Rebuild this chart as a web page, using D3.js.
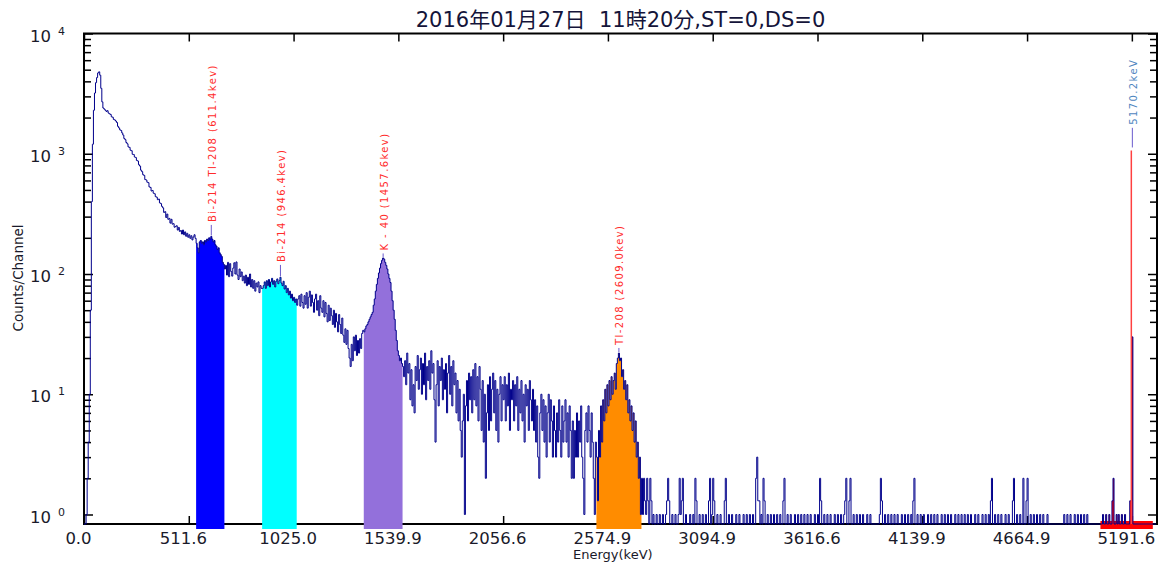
<!doctype html>
<html lang="ja">
<head>
<meta charset="utf-8">
<title>spectrum</title>
<script src="https://d3js.org/d3.v7.min.js"></script>
<style>
  body { margin: 0; background: #fff; }
  svg text { font-family: "DejaVu Sans", "Noto Sans CJK JP", sans-serif; }
</style>
</head>
<body>
<div id="chart"></div>
<script>
// ---- data ----
// x axis: channel of each tick and the energy printed under it
var tickChannels = [0, 100, 200, 300, 400, 500, 600, 700, 800, 900, 1000];
var tickLabels = ["0.0", "511.6", "1025.0", "1539.9", "2056.6", "2574.9", "3094.9", "3616.6", "4139.9", "4664.9", "5191.6"];
var yExponents = [0, 1, 2, 3, 4];

// counts per channel, split into pieces (ch 0-109, 110-209, 210-299, 300-399, 400-529, 530-1023)
var lowPeak = [
  0, 0, 1, 2, 4, 10, 50, 400, 1200, 2300,
  3200, 3900, 4300, 4700, 4800, 4500, 3500, 2700, 2400, 2350,
  2300, 2250, 2280, 2180, 2150, 2120, 2030, 2010, 1930, 1910,
  1870, 1820, 1690, 1640, 1580, 1560, 1490, 1430, 1340, 1310,
  1240, 1210, 1140, 1130, 1070, 1060, 990, 985, 940, 930,
  880, 870, 810, 790, 730, 710, 670, 660, 610, 605,
  580, 575, 530, 525, 490, 495, 470, 465, 440, 435,
  415, 420, 390, 385, 365, 355, 325, 330, 295, 315,
  285, 290, 265, 285, 260, 262, 245, 248, 252, 232,
  244, 226, 230, 215, 232, 212, 224, 206, 218, 202,
  212, 198, 208, 192, 203, 212, 198, 180, 165, 150];
var biCounts = [
  185, 190, 180, 185, 175, 190, 185, 195, 190, 200,
  195, 205, 195, 185, 190, 175, 170, 160, 165, 150,
  145, 140, 125, 120, 110, 118, 98, 125, 95, 122,
  105, 96, 112, 124, 100, 126, 98, 90, 110, 95,
  104, 88, 96, 84, 98, 80, 94, 82, 100, 78,
  90, 76, 88, 72, 84, 78, 86, 70, 80, 76,
  76, 80, 86, 76, 88, 80, 90, 78, 86, 92,
  82, 88, 78, 87, 91, 83, 88, 94, 84, 80,
  87, 75, 80, 70, 76, 67, 72, 63, 68, 60,
  64, 58, 62, 55, 62, 66, 54, 68, 58, 52];
var kCounts = [
  66, 56, 70, 52, 64, 72, 54, 67, 58, 48,
  62, 68, 50, 60, 45, 66, 52, 48, 60, 44,
  58, 47, 40, 55, 41, 52, 45, 38, 50, 36,
  47, 40, 33, 46, 38, 32, 43, 31, 27, 35,
  26, 34, 24, 20, 17, 26, 19, 30, 23, 31,
  21, 28, 22, 29, 24, 32, 34, 33, 35, 37,
  38, 40, 42, 44, 46, 48, 55, 62, 72, 82,
  92, 102, 112, 122, 130, 136, 133, 125, 118, 110,
  100, 92, 85, 72, 60, 50, 42, 34, 28, 23];
var midCounts = [
  21, 19, 20, 18, 17, 14, 19, 12, 22, 15,
  18, 9, 16, 8, 12, 7, 17, 13, 21, 11,
  16, 20, 10, 18, 12, 22, 9, 17, 13, 19,
  11, 23, 15, 18, 9, 4, 12, 19, 8, 17,
  13, 20, 9, 16, 11, 18, 7, 15, 21, 10,
  17, 8, 19, 12, 15, 7, 13, 6, 11, 5,
  3, 6, 10, 1, 8, 13, 6, 15, 9, 14,
  7, 16, 9, 18, 8, 14, 6, 17, 11, 5,
  13, 4, 10, 2, 7, 12, 5, 14, 6, 11,
  15, 7, 13, 5, 11, 4, 10, 14, 6, 12];
var tlCounts = [
  9, 14, 6, 12, 8, 15, 5, 11, 9, 13,
  6, 12, 8, 14, 5, 11, 7, 13, 6, 10,
  4, 12, 8, 11, 5, 13, 9, 6, 11, 5,
  9, 4, 8, 3, 2, 7, 10, 5, 9, 4,
  8, 3, 7, 10, 4, 9, 6, 3, 8, 5,
  3, 7, 4, 9, 5, 3, 8, 4, 6, 9,
  4, 7, 3, 8, 5, 2, 6, 2, 5, 3,
  7, 3, 6, 4, 8, 3, 2, 1, 5, 7,
  4, 8, 5, 3, 7, 4, 2, 1, 4, 3,
  1.3, 5, 3, 8, 4, 9, 6, 11, 7, 12,
  8, 13, 9, 14, 10, 13, 15, 11, 18, 20,
  22, 19, 20, 14, 16, 11, 13, 9, 12, 7,
  9, 6, 8, 5, 7, 4, 6, 3, 4, 2];
var tailCounts = [
  3, 1, 2, 1, 2, 1.3, 1, 2, 1.3, 0,
  2, 1.3, 0, 1, 0, 0, 1, 0, 0, 1,
  0, 0, 1, 0, 0, 1, 1.3, 2, 1.3, 0,
  0, 1, 0, 0, 1, 0, 0, 1, 2, 1,
  1.3, 2, 0, 0, 1, 0, 0, 0, 1, 0,
  0, 1, 0, 2, 1.3, 0, 0, 1, 0, 0,
  1, 0, 0, 1, 0, 0, 1.3, 2, 0, 1,
  2, 1.3, 0, 0, 1, 0, 0, 1, 0, 0,
  0, 1.3, 2, 0, 0, 1, 0, 0, 1, 0,
  0, 0, 1, 0, 0, 1, 0, 0, 0, 1,
  0, 0, 1, 0, 0, 1, 0, 0, 1, 0,
  0, 2, 3, 1.3, 1.3, 0, 1, 0, 2, 1.3,
  0, 0, 1, 0, 0, 1, 0, 0, 1, 0,
  0, 1, 0, 0, 1, 0, 0, 1.3, 2, 0,
  0, 1, 0, 0, 1, 0, 0, 0, 1, 0,
  0, 1, 0, 0, 1, 0, 0, 1, 0, 0,
  1, 0, 0, 1, 0, 0, 0, 1, 0, 0,
  1, 0, 2, 1.3, 0, 0, 1, 0, 0, 1,
  0, 0, 1, 0, 0, 0, 1, 0, 0, 1,
  0, 0, 1, 0, 0, 1, 1.3, 2, 0, 0,
  1.3, 2, 0, 0, 1, 0, 0, 1, 0, 0,
  1, 0, 0, 1, 0, 0, 0, 1, 0, 0,
  1, 0, 0, 0, 0, 0, 0, 0, 0, 1,
  2, 1.3, 0, 0, 1, 0, 0, 1, 0, 0,
  1, 0, 0, 1, 0, 0, 1, 0, 0, 0,
  1, 0, 0, 1, 0, 0, 1, 0, 0, 1,
  0, 1.3, 2, 0, 0, 1, 0, 0, 1, 0,
  0, 1, 0, 0, 0, 1, 0, 0, 1, 0,
  0, 1, 0, 0, 1, 0, 0, 0, 1, 0,
  0, 1, 0, 0, 1, 0, 0, 1, 0, 0,
  0, 1, 0, 0, 1, 0, 0, 1, 0, 0,
  1, 0, 0, 1, 0, 0, 1, 0, 0, 0,
  1, 0, 0, 1, 0, 0, 0, 1, 0, 0,
  1, 0, 0, 1, 0, 1.3, 2, 0, 0, 1,
  0, 0, 1, 0, 0, 1, 0, 0, 0, 1,
  0, 0, 1, 0, 0, 0, 1.3, 2, 0, 0,
  1, 0, 0, 1, 0, 0, 2, 0, 0, 1.3,
  2, 0, 0, 1, 0, 0, 1, 0, 0, 1,
  0, 0, 1, 0, 0, 1, 0, 0, 0, 1,
  0, 0, 0, 0, 0, 0, 0, 0, 0, 0,
  0, 0, 0, 0, 0, 1, 0, 0, 1, 0,
  0, 1, 0, 0, 0, 1, 0, 0, 1, 0,
  0, 1, 0, 0, 1, 0, 0, 1, 0, 0,
  0, 0, 0, 0, 0, 0, 0, 0, 0, 0,
  0, 0, 1, 0, 0, 1, 0, 0, 1, 0,
  0, 1.3, 2, 0, 0, 1, 0, 1, 0, 0,
  1, 0, 0, 1, 0, 0, 0, 0, 1.3, 1.3,
  30, 0, 0, 0, 0, 0, 0, 0, 0, 0,
  0, 0, 0, 0, 0, 0, 0, 0, 0, 0,
  0, 0, 0, 0];

// regions of interest (first and last channel) and their fill colours
var roiStart = [107, 170, 267, 489, 970];
var roiEnd = [133, 202, 303, 531, 1019];
var roiColors = ["#0000ff", "#00ffff", "#9370db", "#ff8c00", "#ff0000"];

// peak labels: text, channel, and the count level where the text starts
var peakNames = ["Bi-214 Tl-208 (611.4kev)", "Bi-214 (946.4kev)", "K - 40 (1457.6kev)", "Tl-208 (2609.0kev)", "5170.2keV"];
var peakChannels = [121, 187, 285, 510, 1000];
var labelCounts = [271, 126, 157, 25.7, 1740];
var labelColors = ["#ff2b2b", "#ff2b2b", "#ff2b2b", "#ff2b2b", "#4f86c0"];

// cursor line at 5170.2 keV
var markerChannel = 999.5;
var markerCount = 1065;

// ---- drawing ----
function drawChart() {
  var counts = [].concat(lowPeak, biCounts, kCounts, midCounts, tlCounts, tailCounts);

  var W = 1164, H = 566;
  var pLeft = 84, pRight = 1157, pTop = 33.5, pBottom = 524;

  var x = d3.scaleLinear().domain([0, 1024]).range([pLeft, pRight]);
  var y = d3.scaleLog().domain([1, 10000]).range([514.5, pTop]);
  // zero counts sit on the axis line
  function yv(c) { return c > 0 ? Math.min(y(c), pBottom) : pBottom; }

  var svg = d3.select("#chart").append("svg")
    .attr("width", W)
    .attr("height", H);

  // title
  svg.append("text")
    .attr("x", (pLeft + pRight) / 2)
    .attr("y", 26.5)
    .attr("text-anchor", "middle")
    .attr("font-size", "21px")
    .attr("fill", "#14143a")
    .style("white-space", "pre")
    .text("2016年01月27日  11時20分,ST=0,DS=0");

  // y tick values: 1..9 x 10^k
  var yTicks = [];
  yExponents.slice(0, 4).forEach(function(e) {
    d3.range(1, 10).forEach(function(m) { yTicks.push(m * Math.pow(10, e)); });
  });
  yTicks.push(10000);
  function isDecade(d) { return Math.abs(Math.log10(d) - Math.round(Math.log10(d))) < 1e-9; }

  // frame
  svg.append("path")
    .attr("d", "M" + pLeft + "," + pBottom + "V" + pTop + "H" + pRight + "V" + pBottom + "Z")
    .attr("fill", "none")
    .attr("stroke", "#000")
    .attr("stroke-width", 2);

  // axes with inward ticks on all four sides
  svg.append("g")
    .attr("transform", "translate(0," + pBottom + ")")
    .call(d3.axisBottom(x).tickValues(tickChannels).tickSize(-8).tickSizeOuter(0)
      .tickFormat(function(d, i) { return tickLabels[i]; }).tickPadding(8))
    .call(function(g) {
      g.select(".domain").remove();
      g.selectAll(".tick line").attr("stroke-width", 1.5);
      // the original prints its labels a few pixels left of the tick
      g.selectAll("text").attr("font-size", "16.5px").attr("fill", "#1a1a2a")
        .attr("font-family", null).attr("dx", -6);
    });
  svg.append("g")
    .attr("transform", "translate(0," + pTop + ")")
    .call(d3.axisTop(x).tickValues(tickChannels).tickSize(-8).tickFormat(""))
    .call(function(g) {
      g.select(".domain").remove();
      g.selectAll(".tick line").attr("stroke-width", 1.5);
    });

  svg.append("g")
    .attr("transform", "translate(" + pLeft + ",0)")
    .call(d3.axisLeft(y).tickValues(yTicks).tickSize(-7).tickFormat(""))
    .call(function(g) {
      g.select(".domain").remove();
      g.selectAll(".tick line").attr("stroke-width", 1.5);
      g.selectAll(".tick line").filter(isDecade).attr("x2", 9);
    });
  svg.append("g")
    .attr("transform", "translate(" + pRight + ",0)")
    .call(d3.axisRight(y).tickValues(yTicks).tickSize(-7).tickFormat(""))
    .call(function(g) {
      g.select(".domain").remove();
      g.selectAll(".tick line").attr("stroke-width", 1.5);
      g.selectAll(".tick line").filter(isDecade).attr("x2", -9);
    });

  // y labels written as 10 with exponent
  var yLab = svg.append("g").attr("fill", "#1a1a2a");
  yExponents.forEach(function(e) {
    var ty = y(Math.pow(10, e));
    yLab.append("text").attr("x", 51).attr("y", ty + 8)
      .attr("text-anchor", "end").attr("font-size", "16.5px").text("10");
    yLab.append("text").attr("x", 58).attr("y", ty + 1)
      .attr("font-size", "11px").text(e);
  });

  // axis titles
  svg.append("text")
    .attr("transform", "translate(23,278) rotate(-90)")
    .attr("text-anchor", "middle")
    .attr("font-size", "13.5px")
    .attr("fill", "#1a1a2a")
    .text("Counts/Channel");
  svg.append("text")
    .attr("x", 573)
    .attr("y", 559)
    .attr("font-size", "13px")
    .attr("fill", "#1a1a2a")
    .text("Energy(keV)");

  // filled regions of interest, reaching a little below the axis
  roiStart.forEach(function(s, r) {
    var chans = d3.range(s, roiEnd[r] + 2);
    var area = d3.area()
      .x(function(d) { return x(d); })
      .y0(529)
      .y1(function(d) { var c = counts[Math.min(d, roiEnd[r])]; return c > 0 ? yv(c) : 521; })
      .curve(d3.curveStepAfter);
    svg.append("path")
      .datum(chans)
      .attr("d", area)
      .attr("fill", roiColors[r]);
  });

  // spectrum line
  var line = d3.line()
    .x(function(d, i) { return x(i); })
    .y(function(d) { return yv(d); })
    .curve(d3.curveStepAfter);
  svg.append("path")
    .datum(counts)
    .attr("d", line)
    .attr("fill", "none")
    .attr("stroke", "#00008b")
    .attr("stroke-width", 1);

  // cursor line
  svg.append("line")
    .attr("x1", x(markerChannel)).attr("x2", x(markerChannel))
    .attr("y1", y(markerCount)).attr("y2", pBottom)
    .attr("stroke", "#ff4040")
    .attr("stroke-width", 1.5);

  // peak labels with a short leader line
  peakNames.forEach(function(name, i) {
    var px = x(peakChannels[i]) + 0.5;
    var base = i === 4 ? y(markerCount) - 3 : yv(counts[peakChannels[i]]) - 1;
    var ly = y(labelCounts[i]);
    svg.append("line")
      .attr("x1", px).attr("x2", px)
      .attr("y1", base).attr("y2", ly + 3)
      .attr("stroke", "#6a5acd")
      .attr("stroke-width", 1);
    svg.append("text")
      .attr("transform", "translate(" + (px + 4.5) + "," + ly + ") rotate(-90)")
      .attr("font-size", "10px")
      .attr("letter-spacing", "1.4px")
      .attr("fill", labelColors[i])
      .text(name);
  });
}

drawChart();
</script>
</body>
</html>
